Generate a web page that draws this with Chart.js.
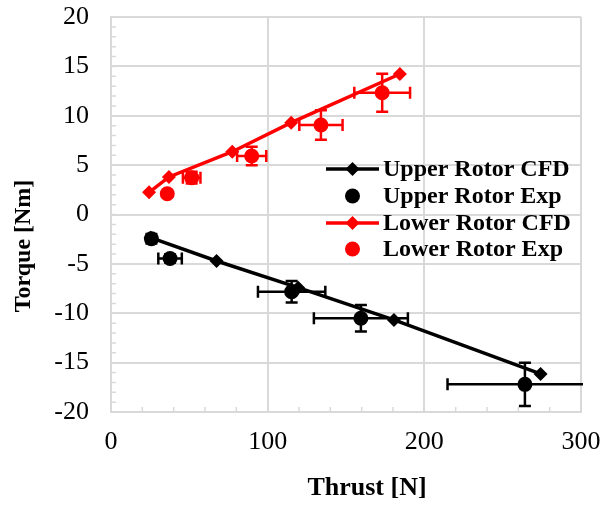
<!DOCTYPE html>
<html>
<head>
<meta charset="utf-8">
<script src="https://cdn.jsdelivr.net/npm/chart.js@4.4.1/dist/chart.umd.min.js"></script>
<style>
  html, body { margin: 0; padding: 0; background: #fff; }
  #wrap { width: 616px; height: 510px; position: relative; }
</style>
</head>
<body>
<div id="wrap"><canvas id="chart" width="616" height="510"></canvas></div>
<script>
// values
var upperCfdX = [25.3, 67.4, 119.5, 180.6, 274.2];
var upperCfdY = [-2.35, -4.71, -7.41, -10.68, -16.15];
var upperExpX = [25.8, 37.7, 115.3, 159.5, 264.2];
var upperExpY = [-2.45, -4.45, -7.82, -10.51, -17.2];
var upperExpXErr = [3, 7.5, 21.5, 30, 49.4];
var upperExpYErr = [0.4, 0.4, 1.08, 1.35, 2.2];

var lowerCfdX = [24.3, 37.0, 77.4, 115.0, 184.4];
var lowerCfdY = [2.25, 3.8, 6.36, 9.3, 14.23];
var lowerExpX = [35.9, 51.5, 89.8, 134.0, 173.1];
var lowerExpY = [2.1, 3.73, 5.92, 9.06, 12.33];
var lowerExpXErr = [1, 5.6, 9.3, 13.8, 17.8];
var lowerExpYErr = [0.3, 0.6, 0.93, 1.5, 1.92];

var xTicks = [0, 100, 200, 300];
var yTicks = [-20, -15, -10, -5, 0, 5, 10, 15, 20];

var SERIF = "'Times New Roman', 'Liberation Serif', serif";
var GRID = "#d9d9d9";

function pts(xs, ys) {
  return xs.map(function (x, i) { return { x: x, y: ys[i] }; });
}

var errorBars = {
  id: "errorBars",
  beforeDatasetsDraw: function (chart) {
    var ctx = chart.ctx;
    var a = chart.chartArea;
    var xs = chart.scales.x, ys = chart.scales.y;
    var cap = 6;
    ctx.save();
    ctx.beginPath();
    ctx.rect(a.left, a.top, a.right - a.left + 2, a.bottom - a.top);
    ctx.clip();
    chart.data.datasets.forEach(function (ds) {
      if (!ds.xErr) return;
      ctx.strokeStyle = ds.backgroundColor;
      ctx.lineWidth = 2.5;
      ds.data.forEach(function (p, i) {
        var px = xs.getPixelForValue(p.x), py = ys.getPixelForValue(p.y);
        var x0 = xs.getPixelForValue(p.x - ds.xErr[i]), x1 = xs.getPixelForValue(p.x + ds.xErr[i]);
        var y0 = ys.getPixelForValue(p.y - ds.yErr[i]), y1 = ys.getPixelForValue(p.y + ds.yErr[i]);
        ctx.beginPath();
        ctx.moveTo(x0, py); ctx.lineTo(x1, py);
        ctx.moveTo(x0, py - cap); ctx.lineTo(x0, py + cap);
        ctx.moveTo(x1, py - cap); ctx.lineTo(x1, py + cap);
        ctx.moveTo(px, y0); ctx.lineTo(px, y1);
        ctx.moveTo(px - cap, y0); ctx.lineTo(px + cap, y0);
        ctx.moveTo(px - cap, y1); ctx.lineTo(px + cap, y1);
        ctx.stroke();
      });
    });
    ctx.restore();
  }
};

var minorTicks = {
  id: "minorTicks",
  afterDraw: function (chart) {
    var ctx = chart.ctx;
    var a = chart.chartArea;
    var xs = chart.scales.x, ys = chart.scales.y;
    ctx.save();
    ctx.strokeStyle = GRID;
    ctx.lineWidth = 1.5;
    ctx.beginPath();
    for (var v = 0; v <= 300; v += 20) {
      var px = xs.getPixelForValue(v);
      ctx.moveTo(px, a.bottom); ctx.lineTo(px, a.bottom - 5);
    }
    for (var w = -20; w <= 20; w += 1) {
      var py = ys.getPixelForValue(w);
      ctx.moveTo(a.left, py); ctx.lineTo(a.left + 5, py);
    }
    ctx.stroke();
    ctx.restore();
  }
};

// axis titles sit off-centre in the original, so they are drawn here
var axisTitles = {
  id: "axisTitles",
  afterDraw: function (chart) {
    var ctx = chart.ctx;
    ctx.save();
    ctx.fillStyle = "#000";
    ctx.textAlign = "center";
    ctx.textBaseline = "middle";
    ctx.font = "bold 26px " + SERIF;
    ctx.fillText("Thrust [N]", 367, 488);
    ctx.font = "bold 24px " + SERIF;
    ctx.translate(24, 246);
    ctx.rotate(-Math.PI / 2);
    ctx.fillText("Torque [Nm]", 0, 0);
    ctx.restore();
  }
};

var boxLegend = {
  id: "boxLegend",
  afterDraw: function (chart) {
    var ctx = chart.ctx;
    var mx = 352.5, lineL = 326, lineR = 379, tx = 383;
    var rows = [169, 196, 223, 249];
    ctx.save();
    ctx.font = "bold 24px " + SERIF;
    ctx.textBaseline = "middle";
    ctx.textAlign = "left";
    chart.data.datasets.forEach(function (ds, i) {
      var y = rows[i];
      ctx.fillStyle = ds.backgroundColor;
      ctx.strokeStyle = ds.borderColor;
      if (ds.showLine) {
        ctx.lineWidth = 3.5;
        ctx.beginPath();
        ctx.moveTo(lineL, y); ctx.lineTo(lineR, y);
        ctx.stroke();
        ctx.beginPath();
        ctx.moveTo(mx - 7, y); ctx.lineTo(mx, y - 7); ctx.lineTo(mx + 7, y); ctx.lineTo(mx, y + 7);
        ctx.closePath();
        ctx.fill();
      } else {
        ctx.beginPath();
        ctx.arc(mx, y, 7.5, 0, Math.PI * 2);
        ctx.fill();
      }
      ctx.fillStyle = "#000";
      ctx.fillText(ds.label, tx, y + 1);
    });
    ctx.restore();
  }
};

new Chart(document.getElementById("chart"), {
  type: "scatter",
  data: {
    datasets: [
      {
        label: "Upper Rotor CFD",
        data: pts(upperCfdX, upperCfdY),
        showLine: true,
        borderColor: "#000",
        backgroundColor: "#000",
        borderWidth: 3.5,
        pointStyle: "rectRot",
        pointRadius: 7,
        pointBorderWidth: 0
      },
      {
        label: "Upper Rotor Exp",
        data: pts(upperExpX, upperExpY),
        xErr: upperExpXErr,
        yErr: upperExpYErr,
        showLine: false,
        borderColor: "#000",
        backgroundColor: "#000",
        pointRadius: 7.5,
        pointBorderWidth: 0
      },
      {
        label: "Lower Rotor CFD",
        data: pts(lowerCfdX, lowerCfdY),
        showLine: true,
        borderColor: "#ff0000",
        backgroundColor: "#ff0000",
        borderWidth: 3.5,
        pointStyle: "rectRot",
        pointRadius: 7,
        pointBorderWidth: 0
      },
      {
        label: "Lower Rotor Exp",
        data: pts(lowerExpX, lowerExpY),
        xErr: lowerExpXErr,
        yErr: lowerExpYErr,
        showLine: false,
        borderColor: "#ff0000",
        backgroundColor: "#ff0000",
        pointRadius: 7.5,
        pointBorderWidth: 0
      }
    ]
  },
  options: {
    responsive: false,
    animation: false,
    devicePixelRatio: 1,
    layout: { padding: { left: 0, right: 35, top: 17, bottom: 0 } },
    plugins: { legend: { display: false }, tooltip: { enabled: false } },
    scales: {
      x: {
        type: "linear",
        min: 0,
        max: 300,
        afterFit: function (s) { s.height = 98; s.paddingLeft = 0; s.paddingRight = 0; },
        afterBuildTicks: function (s) { s.ticks = xTicks.map(function (v) { return { value: v }; }); },
        grid: { color: GRID, lineWidth: 2, drawTicks: false },
        border: { color: GRID, width: 2 },
        ticks: { padding: 15, color: "#000", font: { family: SERIF, size: 26 } }
      },
      y: {
        type: "linear",
        min: -20,
        max: 20,
        afterFit: function (s) { s.width = 111; s.paddingTop = 0; s.paddingBottom = 0; },
        afterBuildTicks: function (s) { s.ticks = yTicks.map(function (v) { return { value: v }; }); },
        grid: { color: GRID, lineWidth: 2, drawTicks: false },
        border: { color: GRID, width: 2 },
        ticks: { padding: 22, color: "#000", font: { family: SERIF, size: 26 } }
      }
    }
  },
  plugins: [errorBars, minorTicks, axisTitles, boxLegend]
});
</script>
</body>
</html>
